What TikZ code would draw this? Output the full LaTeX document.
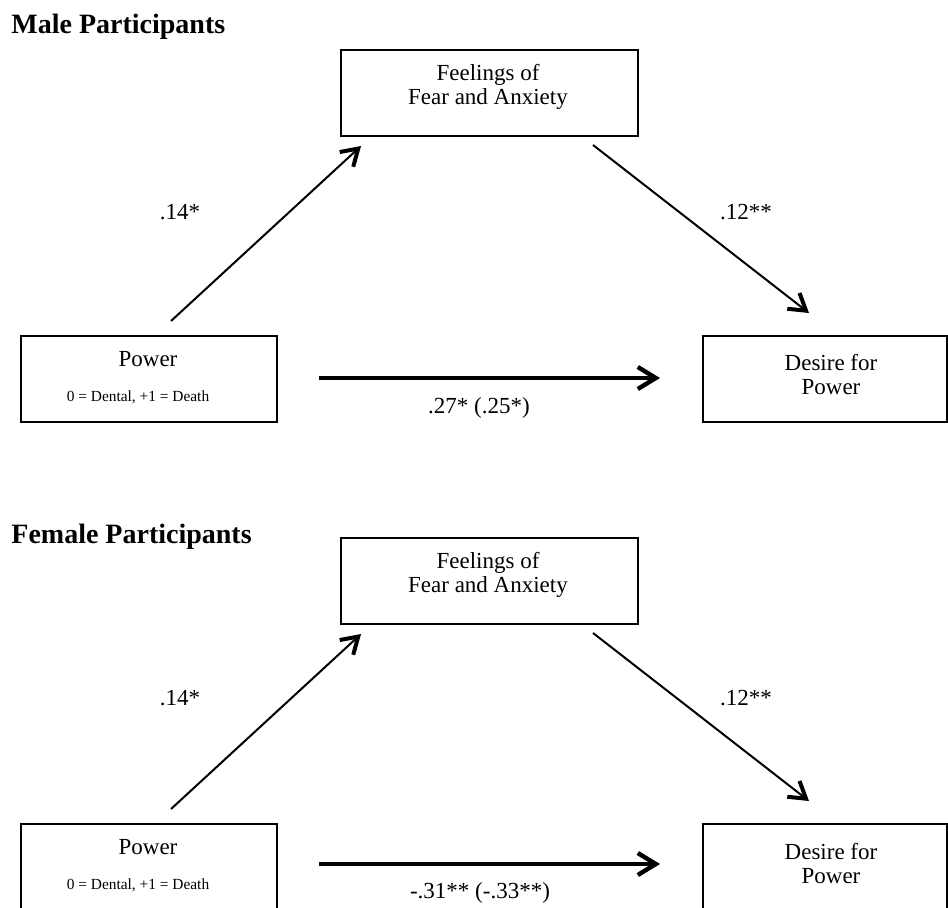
\documentclass[tikz,border=0pt]{standalone}
\usepackage{fontspec}
\setmainfont{Liberation Serif}
\usetikzlibrary{arrows.meta}

\tikzset{
    box/.style={draw, line width=0.9pt, inner sep=0pt, minimum height=43pt},
    boxtext/.style={align=center, font=\fontsize{11.5}{12}\selectfont},
    smalltext/.style={font=\fontsize{7.7}{9}\selectfont},
    coef/.style={font=\fontsize{11.5}{13}\selectfont},
    heading/.style={anchor=base west, inner sep=0pt, font=\fontsize{14}{16}\selectfont\bfseries},
    path/.style={line width=1pt, -{Straight Barb[length=8pt, width=10pt, line width=2pt]}},
    direct/.style={line width=1.7pt, -{Straight Barb[length=9pt, width=11pt, line width=2.2pt]}}
}

\begin{document}
\begin{tikzpicture}[x=0.5pt, y=-0.5pt]

    \useasboundingbox (0,0) rectangle (948,907);

    \node[heading] (titleM) at (11,33) {Male Participants};

    \node[box, minimum width=148.5pt] (fearM) at (489.5,93) {};
    \node[box, minimum width=128pt] (powerM) at (149,379) {};
    \node[box, minimum width=122pt] (desireM) at (825,379) {};

    \node[boxtext] (fearMtext) at (488,87) {Feelings of\\Fear and Anxiety};
    \node[boxtext] (powerMtext) at (148,359) {Power};
    \node[smalltext] (powerMcode) at (138,397) {0 = Dental, +1 = Death};
    \node[boxtext] (desireMtext) at (831,375) {Desire for\\Power};

    \coordinate (aM1) at (171,321);
    \coordinate (aM2) at (361,146);
    \coordinate (bM1) at (593,145);
    \coordinate (bM2) at (809,313);
    \coordinate (cM1) at (319,378);
    \coordinate (cM2) at (660,378);

    \draw[path] (aM1) -- (aM2);
    \draw[path] (bM1) -- (bM2);
    \draw[direct] (cM1) -- (cM2);

    \node[coef] (aMlabel) at (180,212) {.14*};
    \node[coef] (bMlabel) at (746,212) {.12**};
    \node[coef] (cMlabel) at (479,408) {.27* (.25*)};

    \node[heading] (titleF) at (11,543) {Female Participants};

    \node[box, minimum width=148.5pt] (fearF) at (489.5,581) {};
    \node[box, minimum width=128pt] (powerF) at (149,867) {};
    \node[box, minimum width=122pt] (desireF) at (825,867) {};

    \node[boxtext] (fearFtext) at (488,575) {Feelings of\\Fear and Anxiety};
    \node[boxtext] (powerFtext) at (148,847) {Power};
    \node[smalltext] (powerFcode) at (138,885) {0 = Dental, +1 = Death};
    \node[boxtext] (desireFtext) at (831,863) {Desire for\\Power};

    \coordinate (aF1) at (171,809);
    \coordinate (aF2) at (361,634);
    \coordinate (bF1) at (593,633);
    \coordinate (bF2) at (809,801);
    \coordinate (cF1) at (319,864);
    \coordinate (cF2) at (660,864);

    \draw[path] (aF1) -- (aF2);
    \draw[path] (bF1) -- (bF2);
    \draw[direct] (cF1) -- (cF2);

    \node[coef] (aFlabel) at (180,698) {.14*};
    \node[coef] (bFlabel) at (746,698) {.12**};
    \node[coef] (cFlabel) at (480,893) {-.31** (-.33**)};

\end{tikzpicture}
\end{document}
